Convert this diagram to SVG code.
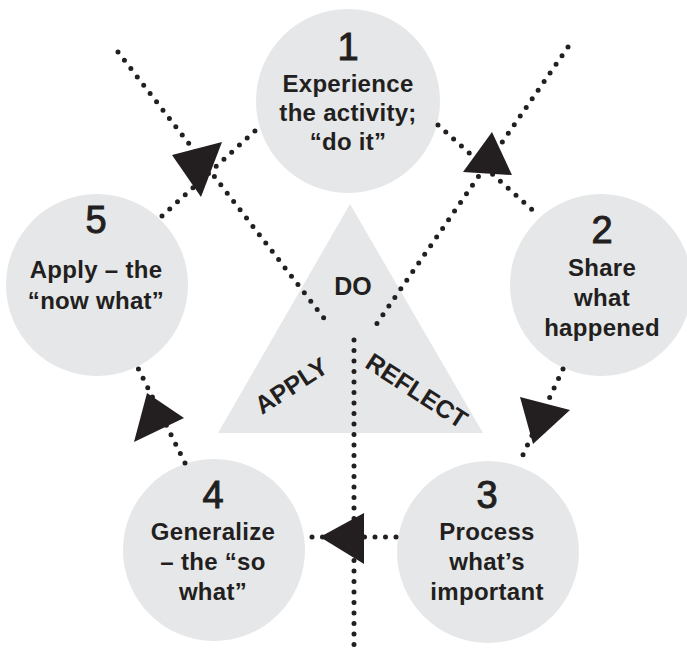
<svg xmlns="http://www.w3.org/2000/svg" width="687" height="656" viewBox="0 0 687 656">
<style>
.bg{fill:#ffffff}
.shape{fill:#e6e7e8}
.num{font-family:"Liberation Sans",Arial,sans-serif;font-size:38px;font-weight:normal;fill:#231f20;stroke:#231f20;stroke-width:1;text-anchor:middle}
.lbl{font-family:"Liberation Sans",Arial,sans-serif;font-size:24px;font-weight:bold;letter-spacing:0.3px;fill:#231f20;text-anchor:middle}
.tri{font-family:"Liberation Sans",Arial,sans-serif;font-size:25px;font-weight:bold;fill:#231f20;text-anchor:middle}
.dot{fill:none;stroke:#231f20;stroke-width:5;stroke-linecap:round;stroke-dasharray:0 10.5}
.head{fill:#231f20}
</style>
<rect class="bg" x="0" y="0" width="687" height="656"/>
<g id="center">
  <polygon class="shape" points="350,204 483,433 218,433"/>
  <text class="tri" x="353" y="295">DO</text>
  <text class="tri" x="296" y="393" transform="rotate(-33 296 393)">APPLY</text>
  <text class="tri" x="412" y="398" transform="rotate(33 412 398)">REFLECT</text>
</g>
<g id="node1">
  <circle class="shape" cx="348" cy="101" r="92"/>
  <text class="num" x="348" y="60">1</text>
  <text class="lbl" x="348" y="92">Experience</text>
  <text class="lbl" x="348" y="121">the activity;</text>
  <text class="lbl" x="348" y="150">“do it”</text>
</g>
<g id="node2">
  <circle class="shape" cx="601" cy="285" r="91"/>
  <text class="num" x="602" y="243">2</text>
  <text class="lbl" x="602" y="276">Share</text>
  <text class="lbl" x="602" y="306">what</text>
  <text class="lbl" x="602" y="336">happened</text>
</g>
<g id="node3">
  <circle class="shape" cx="488" cy="552" r="91"/>
  <text class="num" x="487" y="508">3</text>
  <text class="lbl" x="487" y="540">Process</text>
  <text class="lbl" x="487" y="570">what’s</text>
  <text class="lbl" x="487" y="600">important</text>
</g>
<g id="node4">
  <circle class="shape" cx="214" cy="550" r="91"/>
  <text class="num" x="213" y="508">4</text>
  <text class="lbl" x="213" y="540">Generalize</text>
  <text class="lbl" x="213" y="570">– the “so</text>
  <text class="lbl" x="213" y="600">what”</text>
</g>
<g id="node5">
  <circle class="shape" cx="97" cy="285" r="91"/>
  <text class="num" x="96" y="233">5</text>
  <text class="lbl" x="96" y="278">Apply – the</text>
  <text class="lbl" x="96" y="309">“now what”</text>
</g>
<g id="connectors">
  <line class="dot" x1="118" y1="52" x2="330" y2="326"/>
  <line class="dot" x1="568" y1="47" x2="371" y2="332"/>
  <line class="dot" x1="354" y1="340" x2="354" y2="653"/>
  <line class="dot" x1="162" y1="216" x2="257" y2="129"/>
  <line class="dot" x1="438" y1="125" x2="539" y2="216"/>
  <line class="dot" x1="563" y1="369" x2="521" y2="459"/>
  <line class="dot" x1="396" y1="537" x2="305" y2="537"/>
  <line class="dot" x1="185" y1="463" x2="138" y2="368"/>
  <polygon class="head" points="172,155 222,142 201,197"/>
  <polygon class="head" points="463,172 492,132 512,175"/>
  <polygon class="head" points="520,397 570,410 533,444"/>
  <polygon class="head" points="320,537 364,513 364,564"/>
  <polygon class="head" points="147,393 184,418 134,442"/>
</g>
</svg>
